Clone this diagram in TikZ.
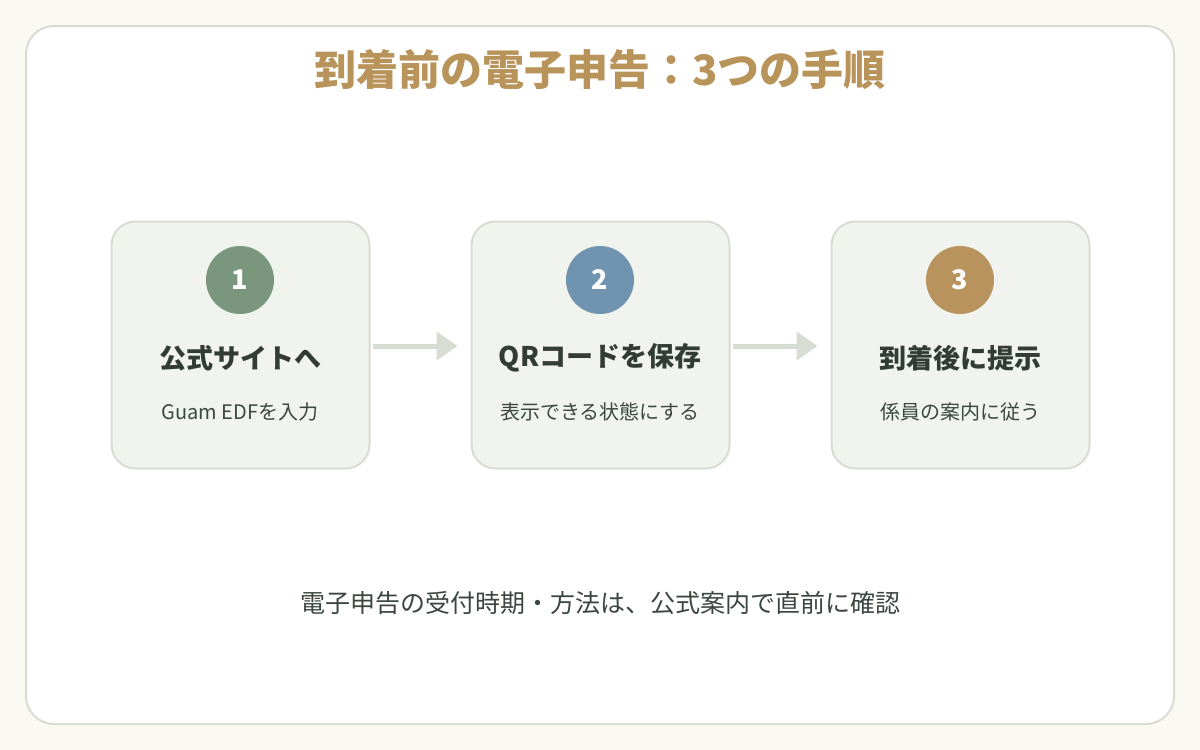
\documentclass[tikz,border=0pt]{standalone}
\usepackage{fontspec}
\setmainfont{Noto Sans CJK JP}
\usetikzlibrary{arrows.meta}
\definecolor{pagebg}{HTML}{FAFAF2}
\definecolor{edge}{HTML}{D8DDD4}
\definecolor{boxfill}{HTML}{F1F4EE}
\definecolor{gold}{HTML}{B8935A}
\definecolor{cgreen}{HTML}{7A967D}
\definecolor{cblue}{HTML}{7093B0}
\definecolor{cgold}{HTML}{B8935E}
\definecolor{headc}{HTML}{323C35}
\definecolor{subc}{HTML}{3C4640}
\tikzset{
  x=1pt,y=-1pt,
  stepbox/.style={draw=edge,line width=2pt,fill=boxfill,rounded corners=24pt,minimum width=258pt,minimum height=247pt,inner sep=0pt},
  numdot/.style={circle,minimum size=68pt,inner sep=0pt,text=white,font=\bfseries\fontsize{27}{27}\selectfont},
  headtxt/.style={text=headc,font=\bfseries\fontsize{27}{30}\selectfont,inner sep=0pt},
  subtxt/.style={text=subc,font=\fontsize{20}{24}\selectfont,inner sep=0pt},
  flow/.style={draw=edge,line width=5pt,-{Triangle[length=21pt,width=28pt]},shorten <=2pt,shorten >=13pt}
}
\begin{document}
\begin{tikzpicture}
\fill[pagebg] (0,0) rectangle (1200,750);
\useasboundingbox (0,0) rectangle (1200,750);
\draw[edge,line width=2pt,fill=white,rounded corners=28pt] (26,26) rectangle (1174,724);
\node[text=gold,font=\bfseries\fontsize{42}{46}\selectfont,inner sep=0pt] (title) at (600,70) {到着前の電子申告：3つの手順};

\node[stepbox] (b1) at (240.5,345) {};
\node[stepbox] (b2) at (600.5,345) {};
\node[stepbox] (b3) at (960.5,345) {};

\node[numdot,fill=cgreen] (n1) at (240,280) {1};
\node[numdot,fill=cblue] (n2) at (600,280) {2};
\node[numdot,fill=cgold] (n3) at (960,280) {3};

\node[headtxt] (h1) at (240,358) {公式サイトへ};
\node[headtxt] (h2) at (600,358) {QRコードを保存};
\node[headtxt] (h3) at (960,358) {到着後に提示};

\node[subtxt] (s1) at (240,412) {Guam EDFを入力};
\node[subtxt] (s2) at (600,412) {表示できる状態にする};
\node[subtxt] (s3) at (960,412) {係員の案内に従う};

\draw[flow] (b1.east |- 0,346) -- (b2.west |- 0,346);
\draw[flow] (b2.east |- 0,346) -- (b3.west |- 0,346);

\node[text=subc,font=\fontsize{25}{28}\selectfont,inner sep=0pt] (foot) at (600,603) {電子申告の受付時期・方法は、公式案内で直前に確認};
\end{tikzpicture}
\end{document}
